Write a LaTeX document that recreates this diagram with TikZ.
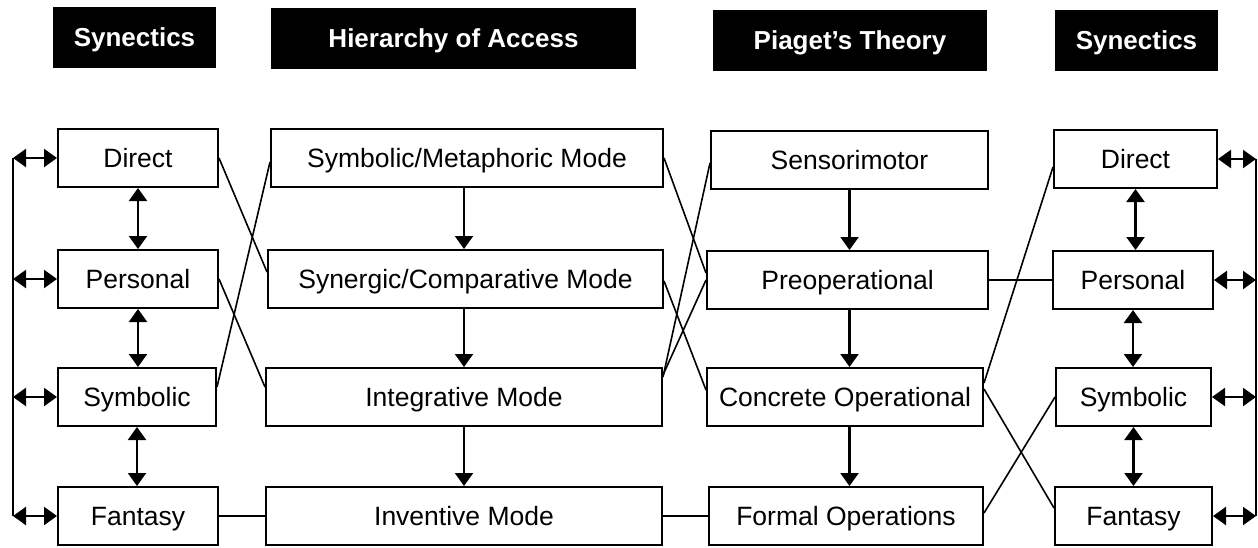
\documentclass[tikz,border=0pt]{standalone}
\usepackage{fontspec}
\setmainfont{Liberation Sans}
\usetikzlibrary{arrows.meta}
\begin{document}
\begin{tikzpicture}[x=1pt,y=-1pt,
  box/.style={draw, line width=2pt, minimum height=58pt, inner sep=0pt, text height=18.6pt, text depth=0pt, font=\fontsize{26.5}{30}\selectfont},
  hdr/.style={fill=black, text=white, minimum height=61pt, inner sep=0pt, text height=18.6pt, text depth=0pt, font=\fontsize{26}{30}\selectfont\bfseries},
  link/.style={line width=1.6pt},
  arr/.style={line width=2.2pt, -{Triangle[width=18pt,length=13pt]}},
  darr/.style={line width=2.2pt, {Triangle[width=18pt,length=13pt]}-{Triangle[width=18pt,length=13pt]}},
]
\useasboundingbox (0,0) rectangle (1258,547);

% headers
\node[hdr, minimum width=163pt] (h1) at (134.5,37.5) {Synectics};
\node[hdr, minimum width=365pt] (h2) at (453.5,38.5) {Hierarchy of Access};
\node[hdr, minimum width=274pt] (h3) at (850,40.5) {Piaget's Theory};
\node[hdr, minimum width=163pt] (h4) at (1136.5,40) {Synectics};

% left synectics
\node[box, minimum width=160pt] (ld) at (138,158) {Direct};
\node[box, minimum width=160pt] (lp) at (138,279) {Personal};
\node[box, minimum width=158pt] (ls) at (137,397) {Symbolic};
\node[box, minimum width=160pt] (lf) at (138,516) {Fantasy};

% hierarchy
\node[box, minimum width=392pt] (sym) at (467,158) {Symbolic/Metaphoric Mode};
\node[box, minimum width=395pt] (syn) at (465.5,279) {Synergic/Comparative Mode};
\node[box, minimum width=396pt] (int) at (464,397) {Integrative Mode};
\node[box, minimum width=396pt] (inv) at (464,516) {Inventive Mode};

% piaget
\node[box, minimum width=277pt] (sen) at (849.5,160) {Sensorimotor};
\node[box, minimum width=281pt] (pre) at (847.5,280) {Preoperational};
\node[box, minimum width=276pt] (con) at (845,397) {Concrete Operational};
\node[box, minimum width=274pt] (fo) at (846,516) {Formal Operations};

% right synectics
\node[box, minimum width=163pt] (rd) at (1135.5,159) {Direct};
\node[box, minimum width=160pt] (rp) at (1133,280) {Personal};
\node[box, minimum width=155pt] (rs) at (1133.5,397) {Symbolic};
\node[box, minimum width=157pt] (rf) at (1133.5,516) {Fantasy};

% bus coordinates
\coordinate (bl1) at (13,158);
\coordinate (bl2) at (13,279);
\coordinate (bl3) at (13,397);
\coordinate (bl4) at (13,516);
\coordinate (br1) at (1256,159);
\coordinate (br2) at (1256,280);
\coordinate (br3) at (1256,397);
\coordinate (br4) at (1256,516);

\draw[line width=2.2pt] (bl1) -- (bl4);
\draw[line width=2.2pt] (br1) -- (br4);
\draw[darr] (bl1) -- (ld.west);
\draw[darr] (bl2) -- (lp.west);
\draw[darr] (bl3) -- (ls.west);
\draw[darr] (bl4) -- (lf.west);
\draw[darr] (rd.east) -- (br1);
\draw[darr] (rp.east) -- (br2);
\draw[darr] (rs.east) -- (br3);
\draw[darr] (rf.east) -- (br4);

% vertical arrows
\draw[darr] (ld.south) -- (ld.south |- lp.north);
\draw[darr] (lp.south) -- (lp.south |- ls.north);
\draw[darr] (ls.south) -- (ls.south |- lf.north);
\draw[darr] (rd.south) -- (rd.south |- rp.north);
\draw[darr] (rp.south) -- (rp.south |- rs.north);
\draw[darr] (rs.south) -- (rs.south |- rf.north);
\draw[arr] (int.south |- sym.south) -- (int.south |- syn.north);
\draw[arr] (int.south |- syn.south) -- (int.north);
\draw[arr] (int.south) -- (inv.north);
\draw[arr] (sen.south) -- (sen.south |- pre.north);
\draw[arr] (sen.south |- pre.south) -- (sen.south |- con.north);
\draw[arr] (sen.south |- con.south) -- (sen.south |- fo.north);

% left crossings
\draw[link] (ld.east) -- ([yshift=7pt]syn.west);
\draw[link] (lp.east) -- ([yshift=10pt]int.west);
\draw[link] ([yshift=10pt]ls.east) -- ([yshift=-4pt]sym.west);
\draw[link] (lf.east) -- (inv.west);

% middle crossings
\draw[link] (sym.east) -- ([yshift=7pt]pre.west);
\draw[link] ([yshift=-2pt]syn.east) -- ([yshift=7pt]con.west);
\draw[link] ([yshift=20pt]int.east) -- ([yshift=-3pt]sen.west);
\draw[link] ([yshift=22pt]int.east) -- (pre.west);
\draw[link] (inv.east) -- (fo.west);

% right crossings
\draw[link] (pre.east) -- (rp.west);
\draw[link] ([yshift=14pt]con.east) -- ([yshift=-8pt]rd.west);
\draw[link] ([yshift=8pt]con.east) -- ([yshift=8pt]rf.west);
\draw[link] ([yshift=3pt]fo.east) -- (rs.west);
\end{tikzpicture}
\end{document}
